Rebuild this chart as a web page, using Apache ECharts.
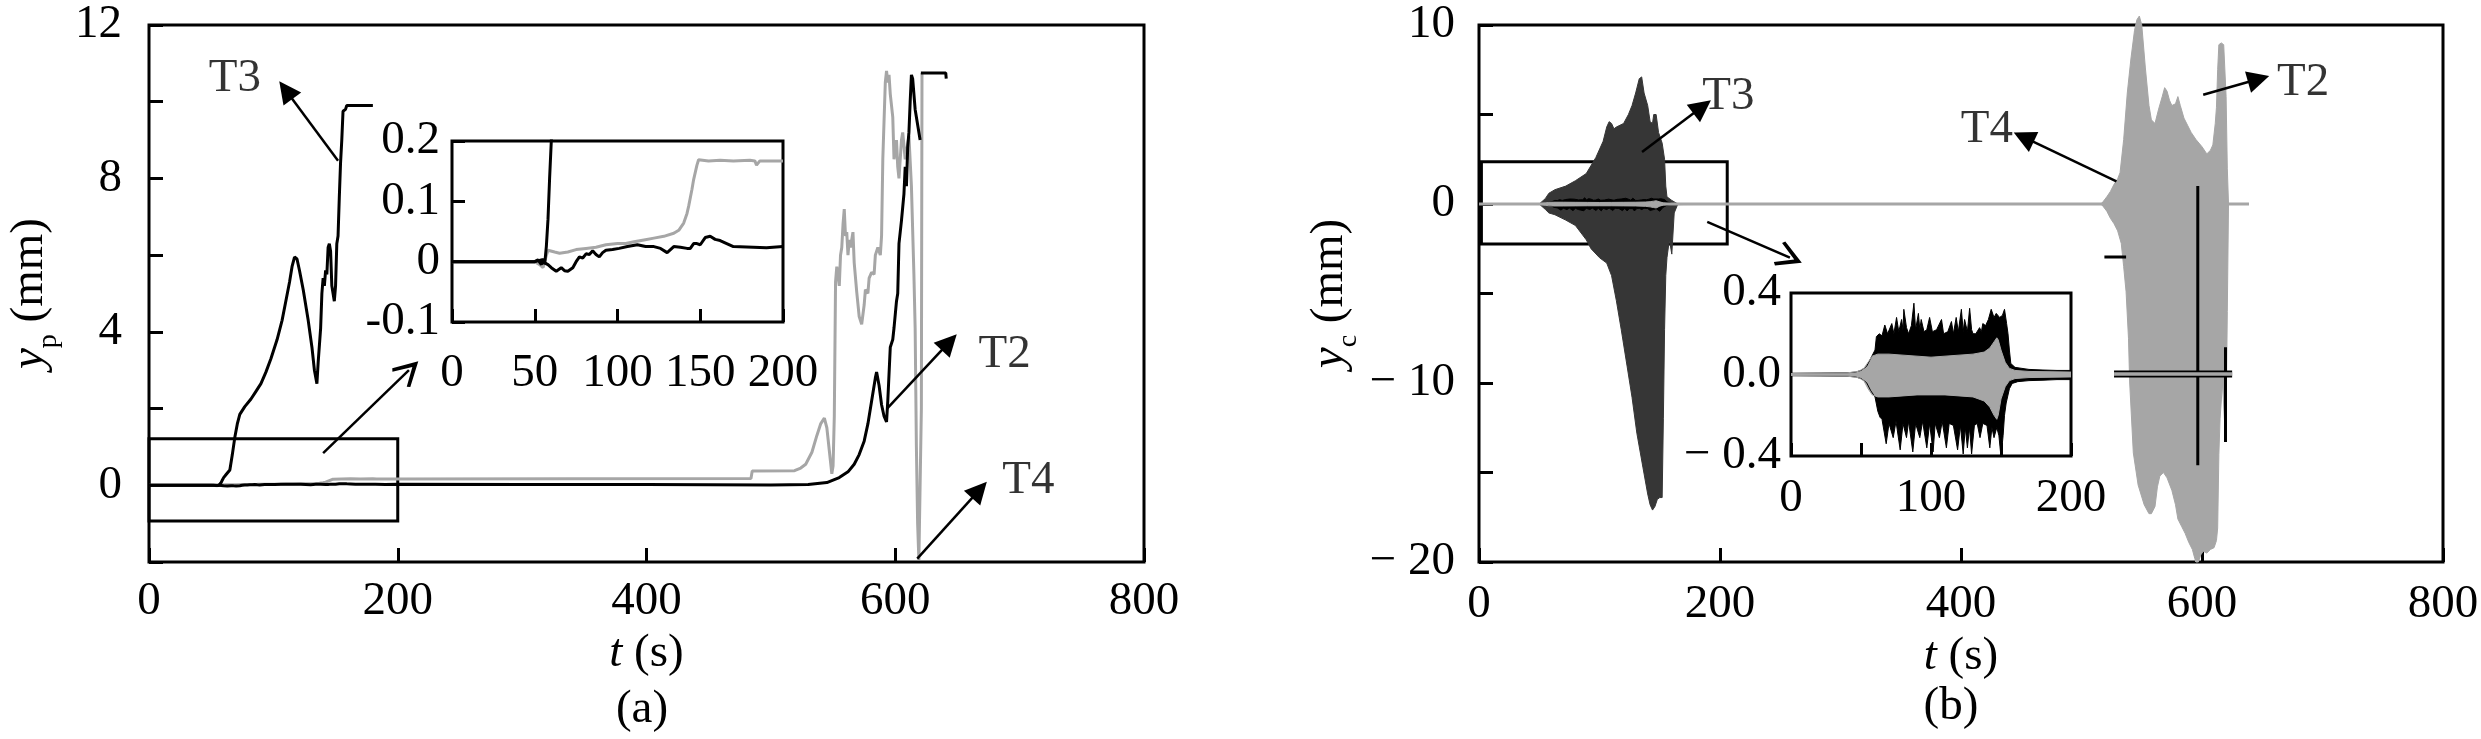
<!DOCTYPE html>
<html>
<head>
<meta charset="utf-8">
<script src="https://cdn.jsdelivr.net/npm/echarts@6/dist/echarts.min.js"></script>
<style>
html, body { margin: 0; padding: 0; background: #fff; }
#main { width: 2481px; height: 739px; }
</style>
</head>
<body>
<div id="main"></div>
<script>
const FONT = 'Liberation Serif'
const FS = 47
const GRAY = '#a6a6a6'
const DARK = '#363636'

// ---------- (a) y_p ----------
const T3A = [[0, 0], [50, 0], [52, 0.003], [54, -0.005], [55, 0.005], [56, -0.004], [57, 0.025], [58, 0.07], [59, 0.14], [60, 0.2],
  [62, 0.28], [65, 0.4], [67, 0.8], [69, 1.25], [71, 1.6], [73, 1.85], [77, 2.05], [82, 2.25], [86, 2.45], [90, 2.65], [94, 2.95],
  [98, 3.3], [103, 3.8], [107, 4.3], [110, 4.8], [113, 5.3], [115, 5.7], [117, 5.95], [119, 5.9], [121, 5.6], [124, 5.1], [128, 4.3],
  [131, 3.6], [133, 3.0], [135, 2.65], [136, 3.2], [138, 4.1], [139, 5.0], [140, 5.4], [141, 5.2], [142, 5.6], [143, 5.5], [144, 6.2],
  [145, 6.3], [146, 6.1], [147, 5.2], [149, 4.8], [150, 5.2], [151, 6.3], [152, 6.5], [153, 7.5], [154, 8.4], [155, 9.0], [156, 9.75],
  [158, 9.8], [159, 9.9], [180, 9.9]]
const T2A_EARLY = [[0, 0], [50, 0], [54, 0.003], [56, -0.002], [58, -0.005], [60, -0.01], [63, -0.016], [66, -0.01], [68, -0.015],
  [70, -0.016], [73, -0.01], [75, 0.0], [77, 0.008], [79, 0.006], [81, 0.013], [83, 0.012], [85, 0.018], [87, 0.012], [89, 0.008],
  [91, 0.015], [93, 0.019], [97, 0.02], [101, 0.022], [106, 0.025], [112, 0.028], [117, 0.025], [122, 0.025], [126, 0.022],
  [130, 0.015], [134, 0.025], [138, 0.024], [142, 0.022], [144, 0.022], [146, 0.03], [148, 0.03], [150, 0.028], [153, 0.04],
  [156, 0.042], [159, 0.037], [162, 0.035], [166, 0.03], [170, 0.025], [182, 0.024], [190, 0.023], [200, 0.025]]
const T2A_LATE = [[300, 0.02], [400, 0.02], [500, 0.01], [530, 0.02], [545, 0.07], [555, 0.2], [562, 0.35], [567, 0.55], [571, 0.8],
  [575, 1.15], [578, 1.6], [581, 2.2], [584, 2.8], [585, 2.95], [587, 2.6], [589, 2.1], [591, 1.8], [593, 1.65], [594, 2.2],
  [596, 3.6], [598, 3.8], [599, 4.1], [601, 4.8], [602, 5.0], [603, 6.3], [605, 6.9], [607, 7.6], [608, 8.3], [609, 7.8],
  [610, 8.8], [611, 9.2], [612, 10.0], [613, 10.7], [614, 10.6], [616, 9.8], [618, 9.4], [620, 9.0]]
const T2A_CAP = [[620.6, 10.75], [640.6, 10.75], [641, 10.6]]
const T4A_EARLY = [[0, 0], [50, 0], [53, -0.005], [55, -0.01], [57, 0.01], [58, 0.019], [62, 0.016], [65, 0.014], [70, 0.016],
  [75, 0.02], [81, 0.022], [87, 0.024], [93, 0.028], [100, 0.03], [105, 0.03], [110, 0.033], [116, 0.036], [122, 0.039],
  [128, 0.042], [134, 0.047], [137, 0.052], [140, 0.064], [142, 0.08], [143, 0.092], [145, 0.12], [146, 0.136], [148, 0.16],
  [149, 0.169], [155, 0.167], [162, 0.168], [170, 0.167], [180, 0.168], [183, 0.167], [184, 0.16], [186, 0.167], [200, 0.167]]
const T4A_LATE = [[484, 0.18], [485, 0.37], [519, 0.38], [524, 0.45], [528, 0.55], [533, 0.86], [537, 1.3], [540, 1.6], [543, 1.75],
  [545, 1.5], [547, 0.9], [549, 0.3], [550, 0.5], [551, 1.8], [552, 5.3], [553, 5.7], [555, 5.2], [556, 6.0], [557, 6.2], [558, 6.8],
  [559, 7.2], [560, 6.5], [561, 6.6], [562, 6.0], [563, 6.4], [564, 6.2], [566, 6.6], [567, 5.8], [569, 5.05], [571, 4.4],
  [573, 4.2], [575, 4.7], [576, 5.1], [578, 5.0], [579, 5.4], [581, 5.55], [583, 5.5], [584, 6.0], [586, 6.2], [588, 6.0],
  [589, 6.5], [590, 8.5], [592, 10.5], [593, 10.8], [594, 10.5], [595, 10.7], [596, 10.2], [598, 9.6], [599, 8.5], [601, 9.0],
  [602, 8.3], [603, 8.0], [605, 9.0], [606, 9.2], [608, 8.5], [610, 8.9], [611, 9.1], [613, 7.8], [615, 5.5], [616, 4.1],
  [617, 1.0], [618, -1.0], [619, -1.95], [620, -1.95], [621, 2], [621.5, 10.75]]
const LABELS_A = [[69, 10.6, 'T3'], [688, 3.4, 'T2'], [707, 0.12, 'T4']]
const ARROWS_A = [[152, 8.46, 110, 10.3, 'fill'], [593.4, 2.0, 643.4, 3.73, 'fill'], [617.7, -1.91, 667.7, -0.12, 'fill'], [140, 0.84, 209, 3.0, 'open']]
const BOX_A = [[0, -0.93], [200, 1.21]]

// ---------- (b) y_c ----------
const T3B_UP = [[50, 0], [55, 0.3], [58, 0.6], [63, 0.8], [72, 1.0], [80, 1.3], [89, 1.7], [97, 2.6], [103, 3.5], [106, 4.3],
  [108, 4.6], [110, 4.5], [112, 4.2], [114, 4.3], [117, 4.4], [120, 4.5], [124, 5.0], [127, 5.5], [130, 6.2], [133, 7.0],
  [135, 7.1], [137, 6.2], [140, 5.5], [142, 4.6], [144, 4.5], [145, 5.0], [147, 5.0], [148, 4.9], [149, 4.0], [152, 3.4],
  [154, 2.5], [155, 1.0], [156, 0.4], [160, 0.2], [165, 0]]
const T3B_LOW = [[50, 0], [55, -0.3], [58, -0.5], [63, -0.6], [72, -0.9], [80, -1.2], [89, -2.0], [93, -2.5], [100, -3.0],
  [106, -3.3], [110, -4.0], [114, -5.4], [118, -7.0], [123, -9.1], [127, -10.8], [131, -12.8], [136, -14.7], [140, -16.2],
  [142, -16.8], [144, -17.1], [146, -16.9], [148, -16.5], [150, -16.4], [152, -16.4], [153, -12], [154, -7], [155, -4],
  [156, -3], [158, -2.0], [160, -2.8], [161, -2.8], [162, -0.5], [165, 0]]
const T4B_UP = [[515, 0], [517, 0.05], [521, 0.4], [524, 0.7], [527, 1.1], [530, 1.4], [532, 1.75], [535, 3.6], [538, 6.2],
  [541, 8.1], [544, 9.7], [546, 10.3], [548, 10.5], [550, 10.0], [553, 7.6], [556, 5.5], [558, 4.7], [561, 4.5], [564, 5.3],
  [567, 6.0], [569, 6.5], [571, 6.3], [573, 5.8], [575, 5.5], [578, 5.6], [580, 6.0], [582, 5.5], [585, 4.8], [588, 4.4],
  [591, 4.0], [595, 3.6], [600, 3.2], [604, 2.8], [607, 3.0], [609, 3.3], [611, 4.5], [612, 5.4], [613, 7.5], [614, 8.9],
  [616, 9.0], [618, 8.9], [619, 9.0], [620, 6], [621, 2], [622, 0]]
const T4B_LOW = [[515, 0], [517, -0.05], [521, -0.4], [524, -0.8], [527, -1.1], [530, -1.5], [533, -2.2], [535, -3.5],
  [537, -4.9], [539, -7.5], [540, -10.0], [543, -13.9], [547, -15.7], [552, -16.8], [556, -17.3], [558, -17.3], [561, -16.9],
  [563, -15.8], [565, -15.2], [568, -15.0], [571, -15.3], [575, -16.0], [578, -16.8], [580, -17.6], [583, -18.0], [586, -18.4],
  [589, -18.9], [592, -19.3], [594, -19.8], [595, -20], [597, -20], [599, -19.6], [601, -19.4], [604, -19.5], [607, -19.3],
  [610, -19.2], [612, -18.8], [613, -18.1], [614, -14], [615, -12], [617, -10], [619, -12.5], [620, -12], [621, -6], [622, 0]]
const T2B_X = [581, 583, 587, 590, 593, 595, 597, 598, 601, 604, 606, 608, 610]
const T2B_LOW = [6.0, 6.2, 4.7, 2.5, 1.0, 1.0, 2.5, 3.6, 2.8, 2.5, 2.3, 2.5, 3.0]
const T2B_UP = [6.0, 8.4, 8.9, 9.1, 9.2, 9.2, 8.5, 7.6, 6.0, 5.2, 4.9, 3.4, 3.2]
const T2B_SPIKE = [[596.5, 1.0], [596.5, -14.6]]
const T2B_SPIKE2 = [[619.5, -8.0], [619.5, -13.3]]
const T4B_SPIKE = [[595, 0.5], [595, -20]]
const STRAY_B = [[527, -9.5], [625, -9.5]]
const DASH_B = [[519, -2.96], [537, -2.96]]
const ZERO_B = [[0, 0], [639, 0]]
const LABELS_B = [[207, 6.0, 'T3'], [421.5, 4.13, 'T4'], [684, 6.77, 'T2']]
const ARROWS_B = [[135.3, 2.9, 185.2, 5.43, 'fill'], [529, 1.27, 452, 3.73, 'fill'], [601, 6.1, 647, 6.98, 'fill'], [189.4, -1.0, 258, -3.0, 'open']]
const BOX_B = [[2, -2.23], [206, 2.36]]

// inset (b): 0-200 s, near zero
const INB_BLACK_UP = [[0, 0.006], [40, 0.008], [46, 0.012], [50, 0.02], [54, 0.04], [57, 0.08], [60, 0.12], [61, 0.186], [63, 0.2],
  [65, 0.19], [67, 0.243], [69, 0.2], [72, 0.25], [73.5, 0.2], [75.4, 0.28], [77, 0.21], [79, 0.27], [80, 0.22], [80.6, 0.32],
  [82.5, 0.23], [84, 0.2], [86, 0.24], [87.8, 0.35], [89, 0.22], [91, 0.3], [92, 0.22], [93, 0.27], [95, 0.21], [97, 0.22],
  [99, 0.28], [101, 0.21], [104, 0.22], [107.5, 0.27], [109, 0.2], [112, 0.21], [114.6, 0.26], [116, 0.2], [118, 0.28],
  [119.5, 0.21], [121.7, 0.32], [123, 0.21], [124, 0.27], [126, 0.21], [127.6, 0.325], [129, 0.22], [130, 0.2], [132, 0.2],
  [134.7, 0.23], [136, 0.21], [137, 0.25], [139, 0.24], [141, 0.27], [143, 0.32], [145, 0.28], [146.6, 0.3], [149, 0.28],
  [151, 0.29], [152.5, 0.32], [154, 0.25], [155, 0.2], [156, 0.12], [157, 0.054], [160, 0.035], [165, 0.03], [170, 0.025],
  [180, 0.022], [190, 0.02], [200, 0.02]]
const INB_BLACK_LOW = [[0, -0.006], [40, -0.008], [46, -0.012], [50, -0.02], [54, -0.04], [57, -0.08], [60, -0.11], [62, -0.18],
  [63.6, -0.21], [65, -0.22], [68, -0.34], [70, -0.24], [73, -0.31], [75, -0.23], [78, -0.37], [80, -0.24], [82.5, -0.31],
  [84, -0.23], [87, -0.38], [89, -0.24], [92, -0.31], [94, -0.23], [97, -0.36], [99, -0.24], [101.5, -0.38], [103, -0.24],
  [106, -0.31], [108, -0.23], [111, -0.36], [113, -0.24], [116, -0.25], [119, -0.37], [121, -0.25], [123, -0.39],
  [124.5, -0.26], [126, -0.36], [127.5, -0.26], [129, -0.39], [131, -0.25], [133, -0.24], [135, -0.31], [137, -0.24],
  [140, -0.25], [142, -0.36], [143.5, -0.26], [145, -0.31], [147, -0.26], [148.5, -0.3], [150, -0.405], [151.5, -0.3],
  [152.5, -0.2], [153.7, -0.14], [156, -0.07], [158, -0.044], [162, -0.035], [170, -0.03], [180, -0.028], [190, -0.025], [200, -0.025]]
const INB_GRAY_UP = [[0, 0.005], [40, 0.008], [48, 0.015], [52, 0.03], [55, 0.06], [58, 0.09], [62, 0.1], [70, 0.1], [80, 0.095],
  [90, 0.09], [100, 0.085], [110, 0.09], [120, 0.095], [130, 0.1], [138, 0.11], [142, 0.13], [145, 0.16], [147, 0.18],
  [148, 0.17], [150, 0.12], [153, 0.06], [156, 0.03], [160, 0.02], [170, 0.015], [200, 0.012]]
const INB_GRAY_LOW = [[0, -0.005], [40, -0.008], [48, -0.015], [52, -0.03], [55, -0.07], [58, -0.1], [62, -0.11], [70, -0.11],
  [80, -0.105], [90, -0.1], [100, -0.1], [110, -0.1], [120, -0.105], [130, -0.11], [138, -0.13], [142, -0.16], [145, -0.2],
  [147, -0.22], [148, -0.2], [150, -0.12], [153, -0.06], [156, -0.03], [160, -0.02], [170, -0.015], [200, -0.012]]
const ZERO_INB = [[0, 0], [200, 0]]

const CHEVRON = 'path://M0,0L12,20L9.5,22L0,7L-9.5,22L-12,20Z'

const myChart = echarts.init(document.getElementById('main'))

const ln = (data, color, width, ax, extra) => Object.assign({
  type: 'line',
  data: data,
  xAxisIndex: ax,
  yAxisIndex: ax,
  symbol: 'none',
  showSymbol: false,
  silent: true,
  animation: false,
  lineStyle: { color: color, width: width },
  itemStyle: { color: color }
}, extra || {})

const area = (data, color, ax, extra) => ln(data, color, 1, ax, Object.assign({
  areaStyle: { color: color, opacity: 1 }
}, extra || {}))

const notes = (labels, arrows, box, ax) => ({
  type: 'scatter',
  xAxisIndex: ax,
  yAxisIndex: ax,
  data: labels,
  symbolSize: 1,
  silent: true,
  animation: false,
  itemStyle: { color: 'rgba(0,0,0,0)' },
  label: {
    show: true,
    position: 'inside',
    formatter: p => p.value[2],
    color: '#000',
    fontFamily: FONT,
    fontSize: FS
  },
  markLine: {
    silent: true,
    animation: false,
    label: { show: false },
    lineStyle: { color: '#000', width: 2.5, type: 'solid' },
    data: arrows.map(a => [
      { coord: [a[0], a[1]], symbol: 'none' },
      { coord: [a[2], a[3]], symbol: a[4] === 'open' ? CHEVRON : 'triangle', symbolSize: a[4] === 'open' ? 26 : 22 }
    ])
  },
  markArea: {
    silent: true,
    label: { show: false },
    itemStyle: { color: 'rgba(0,0,0,0)', borderColor: '#000', borderWidth: 3 },
    data: [[{ coord: box[0] }, { coord: box[1] }]]
  }
})

const axis = (grid, min, max, interval, fmt, margin, tickLen) => ({
  type: 'value',
  gridIndex: grid,
  min: min,
  max: max,
  interval: interval,
  axisLine: { show: false, onZero: false },
  splitLine: { show: false },
  axisTick: { show: tickLen > 0, inside: true, length: tickLen, lineStyle: { color: '#000', width: 3 } },
  axisLabel: {
    show: true,
    formatter: fmt,
    margin: margin,
    color: '#000',
    fontFamily: FONT,
    fontSize: FS,
    showMinLabel: true,
    showMaxLabel: true,
    hideOverlap: false
  }
})

// y names: italic letter, lowered subscript, upright unit
const yRich = {
  i: { fontFamily: FONT, fontSize: FS, fontStyle: 'italic', lineHeight: 66, color: '#000' },
  s: { fontFamily: FONT, fontSize: 28, lineHeight: 28, padding: [38, 0, 0, 0], color: '#000' },
  n: { fontFamily: FONT, fontSize: FS, lineHeight: 66, color: '#000' }
}
const xRich = {
  i: { fontFamily: FONT, fontSize: FS, fontStyle: 'italic', lineHeight: 50, color: '#000' },
  n: { fontFamily: FONT, fontSize: FS, lineHeight: 50, color: '#000' }
}
const yName = { fontFamily: FONT, fontSize: FS, color: '#000', rich: yRich }
const xName = { fontFamily: FONT, fontSize: FS, color: '#000', rich: xRich }

const minusFmt = v => v < 0 ? '\u2212 ' + Math.abs(v) : String(v)

const gridBox = (left, top, width, height) => ({
  left: left, top: top, width: width, height: height,
  show: true, borderColor: '#000', borderWidth: 3, backgroundColor: 'rgba(0,0,0,0)',
  containLabel: false, outerBoundsMode: 'none'
})

const t2Base = T2B_X.map((x, i) => [x, T2B_LOW[i]])
const t2Span = T2B_X.map((x, i) => [x, T2B_UP[i] - T2B_LOW[i]])

const option = {
  animation: false,
  backgroundColor: '#fff',
  grid: [
    gridBox(149, 25, 995, 537),
    gridBox(452, 141, 331, 181),
    gridBox(1479, 25, 964, 537),
    gridBox(1791, 293, 280, 163)
  ],
  xAxis: [
    Object.assign(axis(0, 0, 800, 200, v => String(v), 16, 14), {
      name: '{i|t}{n| (s)}', nameLocation: 'middle', nameGap: 64, nameTextStyle: xName
    }),
    axis(1, 0, 200, 50, v => String(v), 28, 13),
    Object.assign(axis(2, 0, 800, 200, v => String(v), 19, 14), {
      name: '{i|t}{n| (s)}', nameLocation: 'middle', nameGap: 64, nameTextStyle: xName
    }),
    axis(3, 0, 200, 50, v => (v % 100 === 0 ? String(v) : ''), 19, 13)
  ],
  yAxis: [
    Object.assign(axis(0, -2, 12, 2, v => (v >= 0 && v % 4 === 0 ? String(v) : ''), 27, 14), {
      name: '{i|y}{s|p}{n| (mm)}', nameLocation: 'middle', nameRotate: 90, nameGap: 86, nameTextStyle: yName
    }),
    axis(1, -0.1, 0.2, 0.1, v => String(Math.round(v * 10) / 10), 12, 13),
    Object.assign(axis(2, -20, 10, 5, v => (v % 10 === 0 ? minusFmt(v) : ''), 24, 14), {
      name: '{i|y}{s|c}{n| (mm)}', nameLocation: 'middle', nameRotate: 90, nameGap: 116, nameTextStyle: yName
    }),
    axis(3, -0.4, 0.4, 0.4, v => (v === 0 ? '0.0' : (v < 0 ? '\u2212 ' : '') + Math.abs(v).toFixed(1)), 10, 0)
  ],
  graphic: [
    { type: 'text', x: 642, y: 710, silent: true, style: { text: '(a)', fontFamily: FONT, fontSize: FS, fill: '#000', align: 'center', verticalAlign: 'middle' } },
    { type: 'text', x: 1951, y: 707, silent: true, style: { text: '(b)', fontFamily: FONT, fontSize: FS, fill: '#000', align: 'center', verticalAlign: 'middle' } }
  ],
  series: [
    // (a) main
    ln(T4A_EARLY.concat(T4A_LATE), GRAY, 3, 0),
    ln(T2A_EARLY.concat(T2A_LATE), '#000', 3, 0),
    ln(T2A_CAP, '#000', 3, 0),
    ln(T3A, '#000', 3, 0),
    notes(LABELS_A, ARROWS_A, BOX_A, 0),
    // (a) inset
    ln(T4A_EARLY, GRAY, 3, 1),
    ln(T2A_EARLY, '#000', 3, 1),
    ln(T3A, '#000', 3, 1),
    // (b) main
    area(T3B_UP, DARK, 2),
    area(T3B_LOW, DARK, 2),
    area(INB_BLACK_UP, '#000', 2),
    area(INB_BLACK_LOW, '#000', 2),
    area(INB_GRAY_UP, GRAY, 2),
    area(INB_GRAY_LOW, GRAY, 2),
    ln(ZERO_B, GRAY, 3, 2),
    area(T4B_UP, GRAY, 2, { clip: false }),
    area(T4B_LOW, GRAY, 2, { clip: false }),
    ln(t2Base, '#000', 0, 2, { stack: 't2', lineStyle: { opacity: 0, width: 0 } }),
    area(t2Span, '#000', 2, { stack: 't2' }),
    ln(T4B_SPIKE, GRAY, 2, 2),
    ln(T2B_SPIKE, '#000', 3, 2),
    ln(T2B_SPIKE2, '#000', 3, 2),
    ln(STRAY_B, '#000', 7, 2),
    ln(STRAY_B, GRAY, 3.5, 2),
    ln(DASH_B, '#000', 3, 2),
    notes(LABELS_B, ARROWS_B, BOX_B, 2),
    // (b) inset
    area(INB_BLACK_UP, '#000', 3),
    area(INB_BLACK_LOW, '#000', 3),
    area(INB_GRAY_UP, GRAY, 3),
    area(INB_GRAY_LOW, GRAY, 3),
    ln(ZERO_INB, GRAY, 2, 3)
  ]
}
myChart.setOption(option)
</script>
</body>
</html>
